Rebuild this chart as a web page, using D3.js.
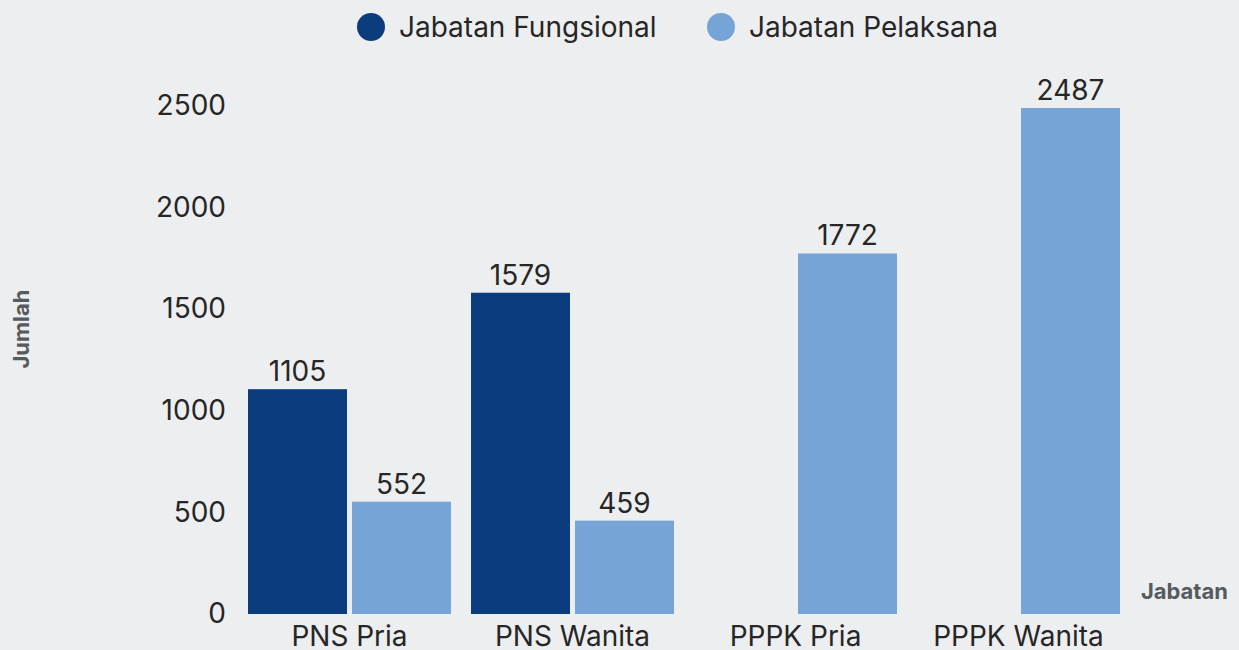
<!DOCTYPE html>
<html>
<head>
<meta charset="utf-8">
<script src="https://cdn.jsdelivr.net/npm/d3@7"></script>
<style>
  body { margin: 0; background: #edeef0; }
  svg { display: block; font-family: Inter, "Noto Sans", sans-serif; }
</style>
</head>
<body>
<div id="container"></div>
<script>
/**
 * CONSTANTS AND GLOBALS
 * */
const width = 1239,
  height = 650;

// data
const categories = ["PNS Pria", "PNS Wanita", "PPPK Pria", "PPPK Wanita"];
const seriesNames = ["Jabatan Fungsional", "Jabatan Pelaksana"];
const fungsional = [1105, 1579, null, null];
const pelaksana = [552, 459, 1772, 2487];
const yTicks = [0, 500, 1000, 1500, 2000, 2500];
const colors = ["#0b3d7e", "#76a4d6"];

const rows = categories.map((c, i) => ({
  cat: c,
  values: [fungsional[i], pelaksana[i]]
}));

const svg = d3.select("#container")
  .append("svg")
  .attr("width", width)
  .attr("height", height)
  .style("background-color", "#edeef0");

// scales
const x = d3.scaleBand()
  .domain(categories)
  .range([238, 1130])
  .paddingInner(20 / 223)
  .paddingOuter(10 / 223);

const xInner = d3.scaleBand()
  .domain(seriesNames)
  .range([0, x.bandwidth()])
  .paddingInner(5 / 104);

const y = d3.scaleLinear()
  .domain([0, 2487])
  .range([614, 108]);

// y axis (labels only)
const yAxis = svg.append("g")
  .attr("transform", "translate(226,0)")
  .call(d3.axisLeft(y).tickValues(yTicks).tickFormat(d3.format("d")).tickSize(0).tickPadding(0));
yAxis.select(".domain").remove();
yAxis.selectAll("text")
  .attr("font-size", 28)
  .attr("font-family", "Inter, sans-serif")
  .attr("fill", "#262626");

// x axis (labels only)
const xAxis = svg.append("g")
  .attr("transform", "translate(0,614)")
  .call(d3.axisBottom(x).tickSize(0).tickPadding(12));
xAxis.select(".domain").remove();
xAxis.selectAll("text")
  .attr("font-size", 28)
  .attr("font-family", "Inter, sans-serif")
  .attr("fill", "#262626");

// bars
const group = svg.selectAll("g.cat")
  .data(rows)
  .join("g")
  .attr("class", "cat")
  .attr("transform", d => `translate(${x(d.cat)},0)`);

const cells = d => d.values
  .map((v, i) => ({ name: seriesNames[i], value: v, i }))
  .filter(e => e.value != null);

group.selectAll("rect")
  .data(cells)
  .join("rect")
  .attr("x", d => xInner(d.name))
  .attr("y", d => y(d.value))
  .attr("width", xInner.bandwidth())
  .attr("height", d => y(0) - y(d.value))
  .attr("fill", d => colors[d.i]);

group.selectAll("text.val")
  .data(cells)
  .join("text")
  .attr("class", "val")
  .attr("x", d => xInner(d.name) + xInner.bandwidth() / 2)
  .attr("y", d => y(d.value) - 8)
  .attr("text-anchor", "middle")
  .attr("font-size", 28)
  .attr("fill", "#262626")
  .text(d => d.value);

// axis titles
svg.append("text")
  .attr("transform", "translate(29,329) rotate(-90)")
  .attr("text-anchor", "middle")
  .attr("font-size", 22)
  .attr("font-weight", "bold")
  .attr("fill", "#555b5e")
  .text("Jumlah");

svg.append("text")
  .attr("x", 1228)
  .attr("y", 599)
  .attr("text-anchor", "end")
  .attr("font-size", 22)
  .attr("font-weight", "bold")
  .attr("fill", "#555b5e")
  .text("Jabatan");

// legend
const legendX = [371, 721];
const legend = svg.selectAll("g.legend")
  .data(seriesNames)
  .join("g")
  .attr("class", "legend")
  .attr("transform", (d, i) => `translate(${legendX[i]},27)`);

legend.append("circle")
  .attr("r", 14)
  .attr("fill", (d, i) => colors[i]);

legend.append("text")
  .attr("x", 28)
  .attr("dy", "0.35em")
  .attr("font-size", 28)
  .attr("fill", "#262626")
  .text(d => d);
</script>
</body>
</html>
